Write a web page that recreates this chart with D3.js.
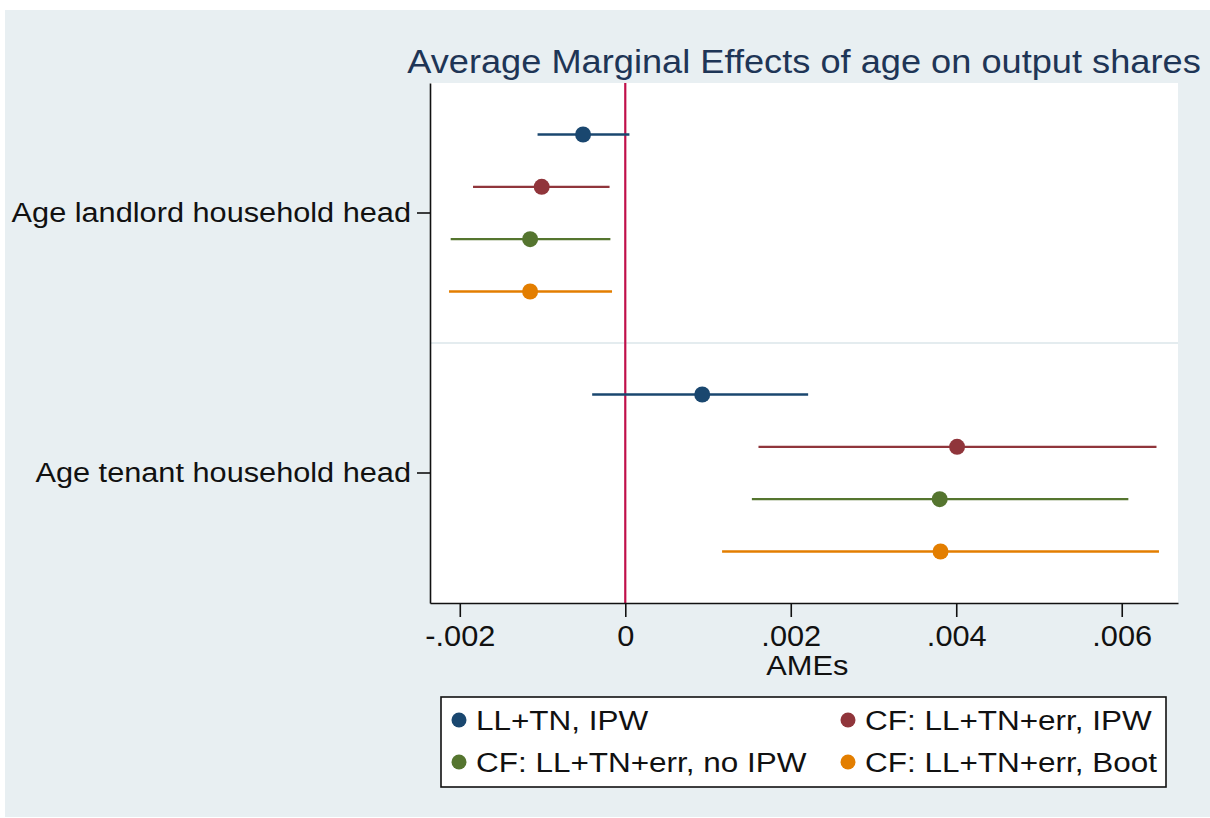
<!DOCTYPE html>
<html>
<head>
<meta charset="utf-8">
<script src="https://cdn.jsdelivr.net/npm/d3@7"></script>
<style>
  body { margin: 0; background: #fff; }
  text { font-family: "Liberation Sans", Arial, sans-serif; }
</style>
</head>
<body>
<div id="chart"></div>
<script>
// data
const categories = ["Age landlord household head", "Age tenant household head"];
const seriesNames = ["LL+TN, IPW", "CF: LL+TN+err, IPW", "CF: LL+TN+err, no IPW", "CF: LL+TN+err, Boot"];
const seriesColors = ["#1a476f", "#90353b", "#55752f", "#e37e00"];
// point estimates [landlord, tenant] per series
const estimates = [
  [-0.00051, 0.00093],
  [-0.00101, 0.00401],
  [-0.00115, 0.00380],
  [-0.00115, 0.00381]
];
const lower = [
  [-0.00106, -0.00040],
  [-0.00184, 0.00161],
  [-0.00211, 0.00153],
  [-0.00213, 0.00117]
];
const upper = [
  [0.00005, 0.00221],
  [-0.00019, 0.00642],
  [-0.00018, 0.00608],
  [-0.00016, 0.00645]
];
const xTicks = [-0.002, 0, 0.002, 0.004, 0.006];
const xTickLabels = ["-.002", "0", ".002", ".004", ".006"];

const width = 1210, height = 818;
const plot = { left: 430, right: 1178, top: 83, bottom: 603 };

// the source graph is a little wider than tall, so text is stretched sideways
function stretch(sel, k) {
  sel.each(function () {
    const w = this.getComputedTextLength();
    d3.select(this).attr("textLength", w * k).attr("lengthAdjust", "spacingAndGlyphs");
  });
}

const svg = d3.select("#chart").append("svg")
  .attr("width", width)
  .attr("height", height);

// graph region background
svg.append("rect")
  .attr("x", 5).attr("y", 10)
  .attr("width", width - 5).attr("height", 807)
  .attr("fill", "#e8eff2");

svg.append("rect")
  .attr("x", plot.left).attr("y", plot.top)
  .attr("width", plot.right - plot.left).attr("height", plot.bottom - plot.top)
  .attr("fill", "#fff");

const x = d3.scaleLinear()
  .domain([-0.00236, 0.00668])
  .range([plot.left, plot.right]);

const y = d3.scaleBand()
  .domain(categories)
  .range([plot.top, plot.bottom]);

// offset of each series within a category band
const inner = d3.scalePoint()
  .domain(d3.range(seriesNames.length))
  .range([-78.5, 78.5]);

// separator between the groups
svg.append("line")
  .attr("x1", plot.left).attr("x2", plot.right)
  .attr("y1", y(categories[1])).attr("y2", y(categories[1]))
  .attr("stroke", "#e4ecef").attr("stroke-width", 2);

// zero reference line
svg.append("line")
  .attr("x1", x(0)).attr("x2", x(0))
  .attr("y1", plot.top).attr("y2", plot.bottom)
  .attr("stroke", "#c0104a").attr("stroke-width", 2.2);

// x axis
const xAxis = svg.append("g")
  .attr("transform", `translate(0,${plot.bottom})`)
  .call(d3.axisBottom(x).tickValues(xTicks)
    .tickFormat((d, i) => xTickLabels[i])
    .tickSize(14).tickPadding(8).tickSizeOuter(0));
xAxis.select(".domain").attr("stroke", "#111").attr("stroke-width", 1.6);
xAxis.selectAll(".tick line").attr("stroke", "#111").attr("stroke-width", 1.6);
xAxis.selectAll(".tick text")
  .attr("fill", "#111").attr("font-size", 29)
  .call(stretch, 1.06);

svg.append("text")
  .attr("x", x(0.0022)).attr("y", 675)
  .attr("text-anchor", "middle")
  .attr("font-size", 28).attr("fill", "#111")
  .text("AMEs")
  .call(stretch, 1.1);

// y axis
const yAxis = svg.append("g")
  .attr("transform", `translate(${plot.left},0)`)
  .call(d3.axisLeft(y).tickSize(13).tickPadding(6).tickSizeOuter(0));
yAxis.select(".domain").attr("stroke", "#111").attr("stroke-width", 1.6);
yAxis.selectAll(".tick line").attr("stroke", "#111").attr("stroke-width", 1.6);
yAxis.selectAll(".tick text")
  .attr("fill", "#111").attr("font-size", 27)
  .call(stretch, 1.137);

// error bars and points
const rows = [];
seriesNames.forEach((name, s) => {
  categories.forEach((cat, c) => {
    rows.push({ s, cat, est: estimates[s][c], lo: lower[s][c], hi: upper[s][c] });
  });
});

const marks = svg.append("g");
marks.selectAll("line.ci")
  .data(rows)
  .enter()
  .append("line")
  .attr("class", "ci")
  .attr("x1", d => x(d.lo))
  .attr("x2", d => x(d.hi))
  .attr("y1", d => y(d.cat) + y.bandwidth() / 2 + inner(d.s))
  .attr("y2", d => y(d.cat) + y.bandwidth() / 2 + inner(d.s))
  .attr("stroke", d => seriesColors[d.s])
  .attr("stroke-width", 2.4);

marks.selectAll("circle")
  .data(rows)
  .enter()
  .append("circle")
  .attr("cx", d => x(d.est))
  .attr("cy", d => y(d.cat) + y.bandwidth() / 2 + inner(d.s))
  .attr("r", 8)
  .attr("fill", d => seriesColors[d.s]);

// title
svg.append("text")
  .attr("x", (plot.left + plot.right) / 2)
  .attr("y", 73)
  .attr("text-anchor", "middle")
  .attr("font-size", 33)
  .attr("fill", "#1e3556")
  .text("Average Marginal Effects of age on output shares")
  .call(stretch, 1.097);

// legend
const legend = svg.append("g");
legend.append("rect")
  .attr("x", 441).attr("y", 697)
  .attr("width", 725).attr("height", 90)
  .attr("fill", "#fff")
  .attr("stroke", "#111").attr("stroke-width", 1.6);

const legendItems = legend.selectAll("g.item")
  .data(seriesNames)
  .enter()
  .append("g")
  .attr("class", "item")
  .attr("transform", (d, i) => `translate(${i % 2 === 0 ? 459 : 848},${i < 2 ? 720 : 762})`);

legendItems.append("circle")
  .attr("r", 7.5)
  .attr("fill", (d, i) => seriesColors[i]);

legendItems.append("text")
  .attr("x", 17).attr("y", 10)
  .attr("font-size", 27).attr("fill", "#111")
  .text(d => d)
  .call(stretch, 1.165);
</script>
</body>
</html>
